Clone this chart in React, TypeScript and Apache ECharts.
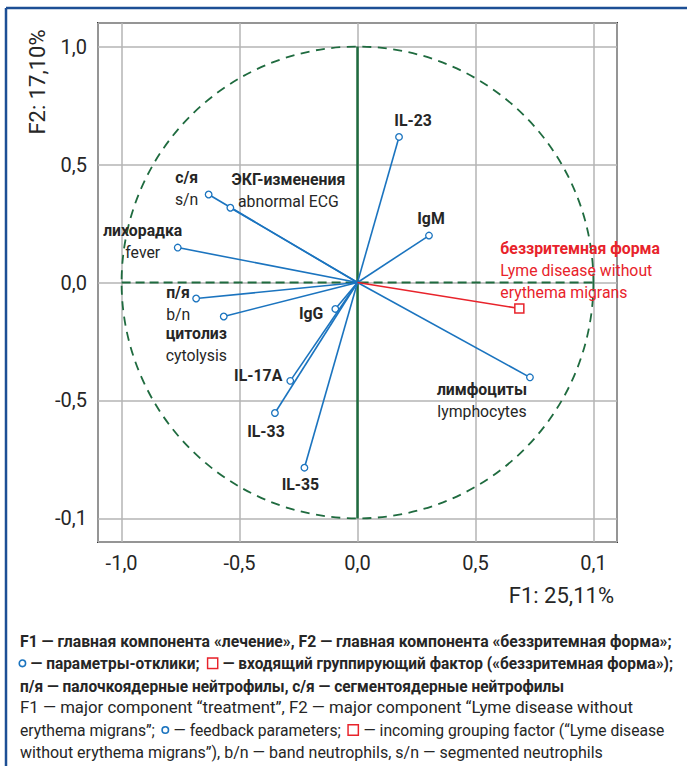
import React, { useEffect, useRef } from "react";
import * as echarts from "echarts";

const FONT = "Roboto, 'DejaVu Sans Condensed', sans-serif";
const BLUE = "#1b74bf";
const RED = "#e8232b";
const GREEN = "#1f6b3f";
const TEXT = "#262626";
const NB = "\u00a0";

// axis ticks and their printed labels (as in the original figure)
const xTickValues = [-1, -0.5, 0, 0.5, 1];
const xTickLabels = ["-1,0", "-0,5", "0,0", "0,5", "0,1"];
const yTickValues = [-1, -0.5, 0, 0.5, 1];
const yTickLabels = ["-0,1", "-0,5", "0,0", "0,5", "1,0"];
const xAxisName = "F1: 25,11%";
const yAxisName = "F2: 17,10%";

// response parameters (loadings on F1, F2)
const varNamesRu = ["IL-23", "IgM", "с/я", "ЭКГ-изменения", "лихорадка", "п/я", "цитолиз", "IgG", "IL-17A", "IL-33", "IL-35", "лимфоциты"];
const varNamesEn = ["", "", "s/n", "abnormal ECG", "fever", "b/n", "cytolysis", "", "", "", "", "lymphocytes"];
const f1Loadings = [0.176, 0.303, -0.631, -0.539, -0.762, -0.684, -0.567, -0.094, -0.285, -0.35, -0.225, 0.731];
const f2Loadings = [0.617, 0.199, 0.373, 0.317, 0.148, -0.068, -0.144, -0.112, -0.417, -0.553, -0.785, -0.402];

// incoming grouping factor
const factorNameRu = "беззритемная форма";
const factorNameEn = ["Lyme disease without", "erythema migrans"];
const factorF1 = [0.686];
const factorF2 = [-0.11];

// unit correlation circle and zero axes
const circleCenter = [0, 0];
const circleRadius = [1];
const hZeroLine = [[-1, 0], [1, 0]];
const vZeroLine = [[0, -1], [0, 1]];

// label placement (pixels relative to the point)
const varLabelLayout = [
  { dx: 14, dy: -17, align: "center" },
  { dx: 2, dy: -17, align: "center" },
  { dx: -22, dy: -6, align: "center" },
  { dx: 58, dy: -17, align: "center" },
  { dx: -35, dy: -6, align: "center" },
  { dx: -30, dy: 5, align: "left" },
  { dx: -58, dy: 28, align: "left" },
  { dx: -12, dy: 4, align: "right" },
  { dx: -8, dy: -6, align: "right" },
  { dx: -9, dy: 18, align: "center" },
  { dx: -4, dy: 17, align: "center" },
  { dx: -48, dy: 23, align: "center" },
];
const factorLabelLayout = { dx: -19, dy: -38, align: "left" };

// caption (figure legend), bold Russian then regular English
const captionLines = [
  "{b|F1 — главная компонента «лечение», F2 — главная компонента «беззритемная форма»;}",
  `{c| }{g2| }{b|${NB}— параметры-отклики;}{g9| }{s| }{g2| }{b|${NB}— входящий группирующий фактор («беззритемная форма»);}`,
  "{b|п/я — палочкоядерные нейтрофилы, с/я — сегментоядерные нейтрофилы}",
  "{r|F1 — major component “treatment”, F2 — major component “Lyme disease without}",
  `{r|erythema migrans”;}{g6| }{c| }{g2| }{r|${NB}— feedback parameters;}{g8| }{s| }{g2| }{r|${NB}— incoming grouping factor (“Lyme disease}`,
  "{r|without erythema migrans”), b/n — band neutrophils, s/n — segmented neutrophils}",
];
const captionLineY = [641.7, 663.3, 686, 707.5, 730, 752.7];
const captionLineScale = [0.985, 0.965, 0.967, 1.05, 0.98, 1.0];

function tickFormatter(values: number[], labels: string[]) {
  return (v: number) => {
    const i = values.findIndex((t) => Math.abs(t - v) < 1e-6);
    return i >= 0 ? labels[i] : "";
  };
}

export default function App() {
  const ref = useRef<HTMLDivElement>(null);
  useEffect(() => {
    if (!ref.current) return;
    const chart = echarts.init(ref.current, undefined, { renderer: "svg" });
    const labelFontSize = 17;
    const labelScale = 0.93;
    const rich = {
      b: { fontFamily: FONT, fontWeight: "bold", fontSize: labelFontSize, lineHeight: 22, fill: TEXT, color: TEXT },
      r: { fontFamily: FONT, fontWeight: "normal", fontSize: labelFontSize, lineHeight: 22, fill: TEXT, color: TEXT },
    };
    const richRed = {
      b: { fontFamily: FONT, fontWeight: "bold", fontSize: labelFontSize, lineHeight: 22, fill: RED, color: RED },
      r: { fontFamily: FONT, fontWeight: "normal", fontSize: labelFontSize, lineHeight: 22, fill: RED, color: RED },
    };
    const capSize = 16;
    const capLH = 22;
    const capRich = {
      b: { fontFamily: FONT, fontWeight: "bold", fontSize: capSize, lineHeight: capLH, fill: TEXT },
      r: { fontFamily: FONT, fontWeight: "normal", fontSize: capSize, lineHeight: capLH, fill: TEXT },
      c: { fontSize: capSize, lineHeight: capLH, width: 5, height: 5, borderColor: BLUE, borderWidth: 1.6, borderRadius: 4, backgroundColor: "#fff" },
      s: { fontSize: capSize, lineHeight: capLH, width: 9, height: 9, borderColor: RED, borderWidth: 1.5, backgroundColor: "#fff" },
      g2: { fontSize: capSize, lineHeight: capLH, width: 2 },
      g6: { fontSize: capSize, lineHeight: capLH, width: 8 },
      g8: { fontSize: capSize, lineHeight: capLH, width: 8 },
      g9: { fontSize: capSize, lineHeight: capLH, width: 9 },
    };

    const varData = f1Loadings.map((x, i) => [x, f2Loadings[i]]);
    const factorData = factorF1.map((x, i) => [x, factorF2[i]]);

    const captionGraphics = captionLines.map((line, i) => ({
      type: "text",
      x: 20,
      y: captionLineY[i],
      scaleX: captionLineScale[i],
      style: { text: line, rich: capRich, fontFamily: FONT, fontSize: capSize, fill: TEXT, align: "left", verticalAlign: "middle" },
    }));

    chart.setOption({
      animation: false,
      grid: {
        left: 98,
        top: 23,
        width: 519,
        height: 519,
        show: true,
        borderColor: "#3a3a3a",
        borderWidth: 2,
        backgroundColor: "transparent",
      },
      xAxis: {
        type: "value",
        min: -1.1,
        max: 1.1,
        splitNumber: 5,
        axisLine: { show: false },
        axisTick: { show: false },
        splitLine: { show: true, lineStyle: { color: "#b5b5b5", width: 1.5 } },
        axisLabel: {
          show: true,
          margin: 11,
          fontFamily: FONT,
          fontSize: 20,
          color: TEXT,
          showMinLabel: false,
          showMaxLabel: false,
          formatter: tickFormatter(xTickValues, xTickLabels),
        },
      },
      yAxis: {
        type: "value",
        min: -1.1,
        max: 1.1,
        splitNumber: 5,
        axisLine: { show: false },
        axisTick: { show: false },
        splitLine: { show: true, lineStyle: { color: "#b5b5b5", width: 1.5 } },
        axisLabel: {
          show: true,
          margin: 11,
          fontFamily: FONT,
          fontSize: 20,
          color: TEXT,
          showMinLabel: false,
          showMaxLabel: false,
          formatter: tickFormatter(yTickValues, yTickLabels),
        },
      },
      series: [
        {
          type: "custom",
          z: 2,
          data: [[circleCenter[0], circleCenter[1], circleRadius[0]]],
          renderItem: (params: any, api: any) => {
            const c = api.coord([api.value(0), api.value(1)]);
            const r = api.size([api.value(2), api.value(2)])[0];
            return {
              type: "circle",
              shape: { cx: c[0], cy: c[1], r },
              style: { fill: "none", stroke: GREEN, lineWidth: 1.8, lineDash: [9, 6.5] },
            };
          },
        },
        {
          type: "line",
          z: 3,
          data: hZeroLine,
          symbol: "none",
          lineStyle: { color: GREEN, width: 2, type: [9, 5] },
        },
        {
          type: "line",
          z: 3,
          data: vZeroLine,
          symbol: "none",
          lineStyle: { color: GREEN, width: 2.5, type: "solid" },
        },
        {
          type: "custom",
          z: 5,
          data: varData,
          renderItem: (params: any, api: any) => {
            const o = api.coord([0, 0]);
            const p = api.coord([api.value(0), api.value(1)]);
            const i = params.dataIndex;
            const lay = varLabelLayout[i];
            const text = varNamesEn[i]
              ? `{b|${varNamesRu[i]}}\n{r|${varNamesEn[i]}}`
              : `{b|${varNamesRu[i]}}`;
            return {
              type: "group",
              children: [
                { type: "line", shape: { x1: o[0], y1: o[1], x2: p[0], y2: p[1] }, style: { stroke: BLUE, lineWidth: 1.6 } },
                { type: "circle", shape: { cx: p[0], cy: p[1], r: 3.3 }, style: { fill: "#fff", stroke: BLUE, lineWidth: 1.3 } },
                {
                  type: "text",
                  x: p[0] + lay.dx,
                  y: p[1] + lay.dy,
                  scaleX: labelScale,
                  style: { text, rich, align: lay.align, verticalAlign: "middle", fill: TEXT, fontFamily: FONT, fontSize: labelFontSize },
                },
              ],
            };
          },
        },
        {
          type: "custom",
          z: 6,
          data: factorData,
          renderItem: (params: any, api: any) => {
            const o = api.coord([0, 0]);
            const p = api.coord([api.value(0), api.value(1)]);
            const lay = factorLabelLayout;
            const text = `{b|${factorNameRu}}\n` + factorNameEn.map((s) => `{r|${s}}`).join("\n");
            const s = 9;
            return {
              type: "group",
              children: [
                { type: "line", shape: { x1: o[0], y1: o[1], x2: p[0], y2: p[1] }, style: { stroke: RED, lineWidth: 1.6 } },
                { type: "rect", shape: { x: p[0] - s / 2, y: p[1] - s / 2, width: s, height: s }, style: { fill: "#fff", stroke: RED, lineWidth: 1.5 } },
                {
                  type: "text",
                  x: p[0] + lay.dx,
                  y: p[1] + lay.dy,
                  scaleX: labelScale,
                  style: { text, rich: richRed, align: lay.align, verticalAlign: "middle", fill: RED, fontFamily: FONT, fontSize: labelFontSize },
                },
              ],
            };
          },
        },
      ],
      graphic: [
        { type: "line", shape: { x1: 6, y1: 8, x2: 687, y2: 8 }, style: { stroke: "#1d4f95", lineWidth: 2.5 } },
        { type: "line", shape: { x1: 6, y1: 8, x2: 6, y2: 766 }, style: { stroke: "#1d4f95", lineWidth: 2.5 } },
        {
          type: "text",
          x: 37,
          y: 82,
          rotation: Math.PI / 2,
          style: { text: yAxisName, fontFamily: FONT, fontSize: 22, fill: TEXT, align: "center", verticalAlign: "middle" },
        },
        {
          type: "text",
          x: 614,
          y: 595,
          style: { text: xAxisName, fontFamily: FONT, fontSize: 22, fill: TEXT, align: "right", verticalAlign: "middle" },
        },
        ...captionGraphics,
      ],
    });
    return () => chart.dispose();
  }, []);
  return <div ref={ref} style={{ position: "absolute", left: 0, top: 0, width: 687, height: 766 }} />;
}
